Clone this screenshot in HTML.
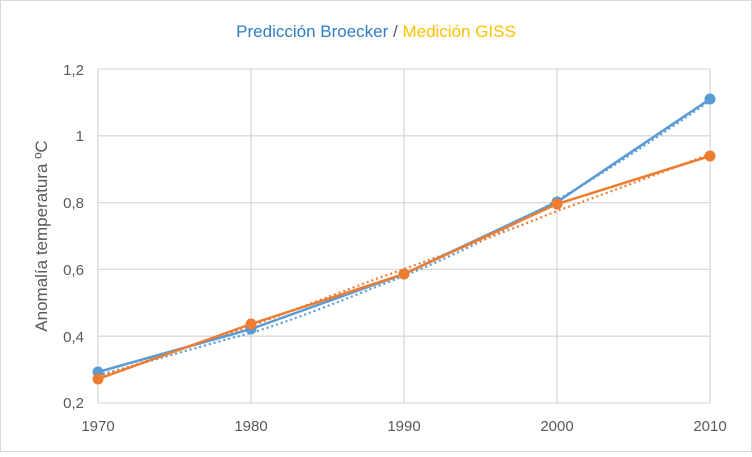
<!DOCTYPE html>
<html><head><meta charset="utf-8"><style>
html,body{margin:0;padding:0;background:#fff}
</style></head><body>
<svg width="752" height="452" xmlns="http://www.w3.org/2000/svg" font-family="'Liberation Sans', sans-serif">
<rect x="0.5" y="0.5" width="751" height="451" fill="#fff" stroke="#d9d9d9"/>
<text x="376" y="37" text-anchor="middle" font-size="17"><tspan fill="#2e7dc6">Predicción Broecker</tspan><tspan fill="#595959"> / </tspan><tspan fill="#ffc000">Medición GISS</tspan></text>
<g stroke="#d9d9d9" stroke-width="1.3" fill="none">
<line x1="98" y1="69" x2="710" y2="69"/><line x1="98" y1="135.8" x2="710" y2="135.8"/>
<line x1="98" y1="202.6" x2="710" y2="202.6"/><line x1="98" y1="269.4" x2="710" y2="269.4"/>
<line x1="98" y1="336.2" x2="710" y2="336.2"/><line x1="98" y1="403" x2="710" y2="403"/>
<line x1="98" y1="69" x2="98" y2="403"/><line x1="251" y1="69" x2="251" y2="403"/>
<line x1="404" y1="69" x2="404" y2="403"/><line x1="557" y1="69" x2="557" y2="403"/>
<line x1="710" y1="69" x2="710" y2="403"/>
</g>
<g font-size="15" fill="#595959" text-anchor="end">
<text x="84" y="75">1,2</text><text x="84" y="141">1</text><text x="84" y="208">0,8</text>
<text x="84" y="275">0,6</text><text x="84" y="342">0,4</text><text x="84" y="408">0,2</text>
</g>
<g font-size="15" fill="#595959" text-anchor="middle">
<text x="98" y="431">1970</text><text x="251" y="431">1980</text><text x="404" y="431">1990</text>
<text x="557" y="431">2000</text><text x="710" y="431">2010</text>
</g>
<text transform="translate(47,236) rotate(-90)" font-size="17" fill="#595959" text-anchor="middle">Anomalía temperatura ºC</text>
<path d="M98,375 C150,362 200,346 251,333 C300,318 350,297 404,276 C460,253 510,228 557,200 C610,170 660,135 710,101" stroke="#5b9bd5" stroke-width="2.2" stroke-dasharray="2,3" fill="none"/>
<path d="M98,377 C150,360 200,343 251,326 C300,308 350,288 404,269 C460,249 510,230 557,211 C610,192 660,173 710,154" stroke="#ed7d31" stroke-width="2.2" stroke-dasharray="2,3" fill="none"/>
<polyline points="98,372 251,329 404,274 557,202 710,99" stroke="#5b9bd5" stroke-width="2.5" fill="none"/>
<g fill="#5b9bd5"><circle cx="98" cy="372" r="5.5"/><circle cx="251" cy="329" r="5.5"/><circle cx="404" cy="274" r="5.5"/><circle cx="557" cy="202" r="5.5"/><circle cx="710" cy="99" r="5.5"/></g>
<polyline points="98,379 251,324 404,274 557,204 710,156" stroke="#ed7d31" stroke-width="2.5" fill="none"/>
<g fill="#ed7d31"><circle cx="98" cy="379" r="5.5"/><circle cx="251" cy="324" r="5.5"/><circle cx="404" cy="274" r="5.5"/><circle cx="557" cy="204" r="5.5"/><circle cx="710" cy="156" r="5.5"/></g>
</svg>
</body></html>
